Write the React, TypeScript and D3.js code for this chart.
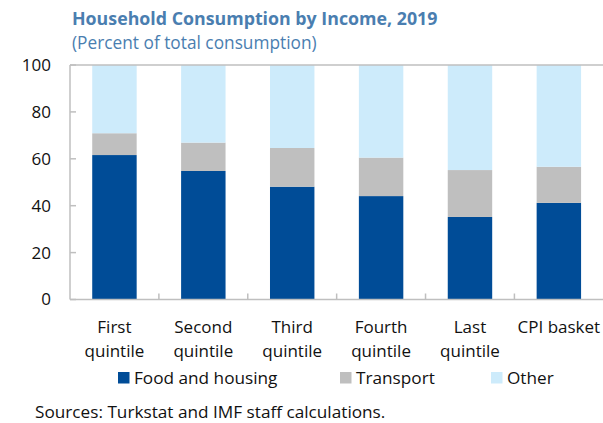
import React from 'react';
import * as d3 from 'd3';

// data (percent of total consumption)
const categories = ['First quintile', 'Second quintile', 'Third quintile', 'Fourth quintile', 'Last quintile', 'CPI basket'];
const categoryLines = [['First', 'quintile'], ['Second', 'quintile'], ['Third', 'quintile'], ['Fourth', 'quintile'], ['Last', 'quintile'], ['CPI basket']];
const foodHousing = [61.6, 54.8, 48.1, 44.1, 35.2, 41.2];
const transport = [9.3, 12.1, 16.5, 16.4, 20.0, 15.4];
const other = [29.1, 33.1, 35.4, 39.5, 44.8, 43.4];
const seriesNames = ['Food and housing', 'Transport', 'Other'];
const seriesColors = ['#004c97', '#bfbfbf', '#cdebfb'];
const yTicks = [0, 20, 40, 60, 80, 100];

const W = 603;
const H = 423;
const font = '"Open Sans", sans-serif';

const App: React.FC = () => {
  const left = 70, top = 65, bottom = 299.5, right = 603.3;

  const x = d3.scaleBand<string>().domain(categories).range([left, right]).paddingInner(0.5).paddingOuter(0.25);
  const y = d3.scaleLinear().domain([0, 100]).range([bottom, top]);

  const rows = categories.map((c, i) => ({ cat: c, food: foodHousing[i], transport: transport[i], other: other[i] }));
  const stacked = d3.stack<any>().keys(['food', 'transport', 'other'])(rows);

  const step = x.step();
  const boundaries = categories.slice(1).map((c) => (x(c) as number) - step * 0.25);

  // legend layout
  const legendX = [118, 340, 491];

  return (
    <svg width={W} height={H} style={{ position: 'absolute', left: 0, top: 0 }} fontFamily={font}>
      <rect width={W} height={H} fill="#fff" />
      <text x={72} y={25} fontSize={17.8} fontWeight="bold" fill="#4a7eb0">Household Consumption by Income, 2019</text>
      <text x={72} y={49} fontSize={17.3} fill="#4a7eb0">(Percent of total consumption)</text>

      {stacked.map((s, si) => (
        <g key={si} fill={seriesColors[si]}>
          {s.map((d, i) => (
            <rect key={i} x={x(categories[i])} width={x.bandwidth()} y={y(d[1])} height={y(d[0]) - y(d[1])} />
          ))}
        </g>
      ))}

      {/* frame */}
      <g stroke="#bfbfbf" strokeWidth={1.5} fill="none">
        <line x1={left} x2={right} y1={top} y2={top} />
        <line x1={left} x2={left} y1={top} y2={bottom} />
        <line x1={left} x2={right} y1={bottom} y2={bottom} />
        {yTicks.map((t) => (
          <line key={t} x1={left} x2={left + 6} y1={y(t)} y2={y(t)} />
        ))}
        {boundaries.map((b, i) => (
          <line key={i} x1={b} x2={b} y1={bottom} y2={bottom - 6} />
        ))}
      </g>

      <g fontSize={17} fill="#111" textAnchor="end">
        {yTicks.map((t) => (
          <text key={t} x={51} y={y(t)} dy="0.35em">{t}</text>
        ))}
      </g>

      <g fontSize={17} fill="#111" textAnchor="middle">
        {categoryLines.map((lines, i) => (
          <text key={i} x={(x(categories[i]) as number) + x.bandwidth() / 2} y={333}>
            {lines.map((l, j) => (
              <tspan key={j} x={(x(categories[i]) as number) + x.bandwidth() / 2} dy={j === 0 ? 0 : 24}>{l}</tspan>
            ))}
          </text>
        ))}
      </g>

      <g fontSize={17.2} fill="#111">
        {seriesNames.map((n, i) => (
          <g key={n}>
            <rect x={legendX[i]} y={372} width={11.5} height={11.5} fill={seriesColors[i]} />
            <text x={legendX[i] + 16} y={383.5}>{n}</text>
          </g>
        ))}
      </g>

      <text x={35} y={418} fontSize={17.2} fill="#111">Sources: Turkstat and IMF staff calculations.</text>
    </svg>
  );
};

export default App;
